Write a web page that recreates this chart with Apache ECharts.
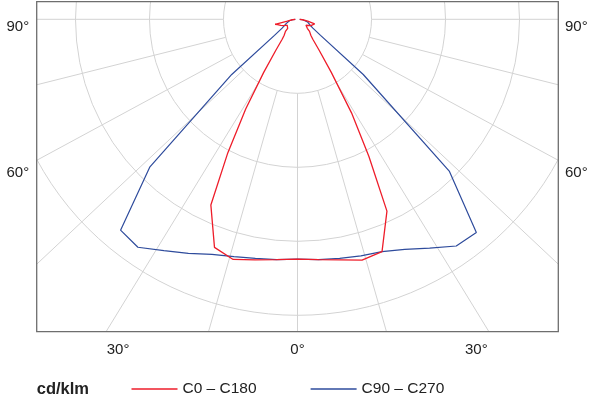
<!DOCTYPE html>
<html>
<head>
<meta charset="utf-8">
<script src="https://cdn.jsdelivr.net/npm/echarts@6/dist/echarts.min.js"></script>
<style>
  html, body { margin: 0; padding: 0; background: #fff; }
  #chart { width: 590px; height: 401px; }
</style>
</head>
<body>
<div id="chart"></div>
<script>
// angles from nadir (deg), intensities in cd/klm
const redAngles = [0, 5, 10, 15, 20, 25, 27.5, 30, 32.5, 35, 37.5, 40, 45, 47.5, 50, 55, 60, 65, 70, 75, 77.5, 80, 85, 90];
const redC0   = [324, 326, 330, 337, 334, 286, 209, 146, 85, 51, 34, 28, 23, 18, 15, 14, 16, 20, 22, 24, 22, 14, 7, 3];
const redC180 = [324, 326, 330, 336, 328, 277, 205, 140, 85, 51, 34, 28, 23, 18, 15, 14, 16, 20, 24, 28, 31, 14, 7, 3];

const blueAngles = [0, 5, 10, 15, 20, 25, 30, 35, 40, 45, 50, 55, 60, 65, 70, 75, 80, 85, 90];
const blueC90  = [324, 326, 328, 331, 334, 343, 357, 374, 376, 290, 116, 38, 24, 19, 16, 14, 11, 7, 3];
const blueC270 = [324, 326, 328, 332, 338, 349, 361, 376, 372, 282, 116, 38, 24, 19, 16, 14, 11, 7, 3];

// radial grid lines as they sit in the picture (deg from nadir)
const gridAngles = [0, 15.9, 31.5, 46.8, 61.6, 75.9, 90];

const sideLabels = ['90°', '60°'];
const bottomLabels = ['30°', '0°', '30°'];
const seriesNames = ['C0 – C180', 'C90 – C270'];

const cx = 297.5, cy = 19.3;
const frame = { x1: 36.7, y1: 1.7, x2: 558.3, y2: 331.7 };
const font = '"Liberation Sans", Arial, Helvetica, sans-serif';
const gridColor = '#d3d3d3';

// one half goes to the left (angle a), the other to the right (360 - a)
function halfPlane(angles, left, right) {
    const out = [];
    for (let i = angles.length - 1; i >= 0; i--) out.push([left[i], angles[i]]);
    for (let i = 1; i < angles.length; i++) out.push([right[i], 360 - angles[i]]);
    return out;
}

const myChart = echarts.init(document.getElementById('chart'), null, { renderer: 'canvas' });

const labelStyle = { fill: '#222', font: '15px ' + font, verticalAlign: 'middle' };

// spokes, both sides
const spokes = [];
gridAngles.forEach(a => {
    const sides = a === 0 ? [0] : [a, 360 - a];
    sides.forEach(s => {
        spokes.push({
            type: 'line', coordinateSystem: 'polar', polarIndex: 1,
            data: [[0, s], [1, s]], symbol: 'none', silent: true, z: 1,
            lineStyle: { color: gridColor, width: 1 }
        });
    });
});

const option = {
    animation: false,
    polar: [
        { center: [cx, cy], radius: 296 },
        { center: [cx, cy], radius: [74, 430] }
    ],
    angleAxis: [
        {
            polarIndex: 0, type: 'value', min: 0, max: 360, startAngle: 270,
            axisLine: { show: false }, axisTick: { show: false },
            axisLabel: { show: false }, splitLine: { show: false }
        },
        {
            polarIndex: 1, type: 'value', min: 0, max: 360, startAngle: 270,
            axisLine: { show: false }, axisTick: { show: false },
            axisLabel: { show: false }, splitLine: { show: false }
        }
    ],
    radiusAxis: [
        {
            polarIndex: 0, type: 'value', min: 0, max: 400, interval: 100,
            axisLine: { show: false }, axisTick: { show: false }, axisLabel: { show: false },
            splitLine: { show: true, lineStyle: { color: gridColor, width: 1 } }
        },
        {
            polarIndex: 1, type: 'value', min: 0, max: 1, show: false,
            splitLine: { show: false }
        }
    ],
    legend: {
        left: 126.5, top: 376, z: 60,
        icon: 'rect', itemWidth: 46, itemHeight: 1.5, itemGap: 54,
        textStyle: { fontSize: 15.5, color: '#222', fontFamily: font },
        data: seriesNames
    },
    series: spokes.concat([
        {
            name: seriesNames[0], type: 'line', coordinateSystem: 'polar', polarIndex: 0,
            data: halfPlane(redAngles, redC180, redC0),
            symbol: 'none', z: 5, color: '#ee1d2a',
            lineStyle: { width: 1.3, color: '#ee1d2a' }
        },
        {
            name: seriesNames[1], type: 'line', coordinateSystem: 'polar', polarIndex: 0,
            data: halfPlane(blueAngles, blueC270, blueC90),
            symbol: 'none', z: 4, color: '#2e4b9c',
            lineStyle: { width: 1.2, color: '#2e4b9c' }
        }
    ]),
    graphic: [
        // white masks outside the frame
        { type: 'rect', z: 50, silent: true, shape: { x: 0, y: 0, width: frame.x1, height: 401 }, style: { fill: '#fff' } },
        { type: 'rect', z: 50, silent: true, shape: { x: frame.x2, y: 0, width: 590 - frame.x2, height: 401 }, style: { fill: '#fff' } },
        { type: 'rect', z: 50, silent: true, shape: { x: 0, y: frame.y2, width: 590, height: 401 - frame.y2 }, style: { fill: '#fff' } },
        { type: 'rect', z: 50, silent: true, shape: { x: 0, y: 0, width: 590, height: frame.y1 }, style: { fill: '#fff' } },
        {
            type: 'rect', z: 55, silent: true,
            shape: { x: frame.x1, y: frame.y1, width: frame.x2 - frame.x1, height: frame.y2 - frame.y1 },
            style: { fill: 'none', stroke: '#6e6e6e', lineWidth: 1.3 }
        },
        { type: 'text', z: 60, style: Object.assign({ text: sideLabels[0], x: 6.5, y: 26.5 }, labelStyle) },
        { type: 'text', z: 60, style: Object.assign({ text: sideLabels[0], x: 565, y: 26.5 }, labelStyle) },
        { type: 'text', z: 60, style: Object.assign({ text: sideLabels[1], x: 6.5, y: 173.3 }, labelStyle) },
        { type: 'text', z: 60, style: Object.assign({ text: sideLabels[1], x: 565, y: 173.3 }, labelStyle) },
        { type: 'text', z: 60, style: Object.assign({ text: bottomLabels[0], x: 106.7, y: 350 }, labelStyle) },
        { type: 'text', z: 60, style: Object.assign({ text: bottomLabels[1], x: 297.5, y: 350, align: 'center' }, labelStyle) },
        { type: 'text', z: 60, style: Object.assign({ text: bottomLabels[2], x: 465, y: 350 }, labelStyle) },
        {
            type: 'text', z: 60,
            style: { text: 'cd/klm', x: 36.7, y: 389, fill: '#222', font: 'bold 16.5px ' + font, verticalAlign: 'middle' }
        }
    ]
};

myChart.setOption(option);
</script>
</body>
</html>
